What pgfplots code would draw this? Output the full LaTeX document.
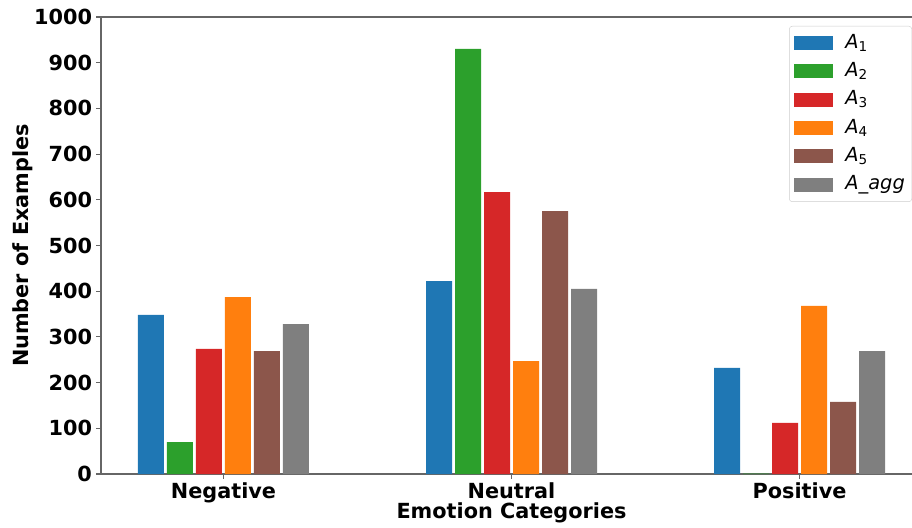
\documentclass[border=0pt]{standalone}
\usepackage{pgfplots}
\pgfplotsset{compat=1.18}
\usepackage{fontspec}
\setmainfont{DejaVu Sans}
\definecolor{c1}{HTML}{1F77B4}
\definecolor{c2}{HTML}{2CA02C}
\definecolor{c3}{HTML}{D62728}
\definecolor{c4}{HTML}{FF7F0E}
\definecolor{c5}{HTML}{8C564B}
\definecolor{c6}{HTML}{7F7F7F}
\begin{document}
\fontsize{20.8}{25}\selectfont
\begin{tikzpicture}
\begin{axis}[
  name=ax, at={(0,0)}, anchor=south west,
  scale only axis, width=821pt, height=457pt,
  xmin=-0.4253, xmax=2.4253, ymin=0, ymax=1000,
  ybar=3pt, bar width=26pt,
  xtick={0,1,2}, xticklabels={Negative,Neutral,Positive},
  ytick={0,100,...,1000},
  tick align=outside, tick pos=left,
  major tick length=4.9pt,
  tick style={black!60, line width=1.1pt},
  axis line style={black!60, line width=1.1pt},
  /pgf/number format/assume math mode=true,
  /pgf/number format/1000 sep={},
  ticklabel style={font=\bfseries},
  yticklabel style={xshift=3pt},
  xticklabel style={yshift=3pt},
  xlabel={\bfseries Emotion Categories},
  ylabel={\bfseries Number of Examples},
  xlabel style={yshift=15pt},
  ylabel style={yshift=-13pt},
  legend style={at={(1,1)}, anchor=north east, xshift=-10pt, yshift=-9pt,
    draw=black!20, rounded corners=3pt, fill=white, font=\mdseries\fontsize{19.4}{23}\selectfont,
    row sep=4.3pt, inner xsep=5pt, inner ysep=5pt,
    nodes={inner sep=2pt, text height=15pt, text depth=5pt},
    /tikz/every odd column/.append style={column sep=10pt}},
  legend cell align=left,
  legend image code/.code={\fill[#1, sharp corners] (0pt,-7pt) rectangle (39pt,7pt);},
]
\addplot[fill=c1, draw=none] coordinates {(0,348) (1,422) (2,232)};
\addplot[fill=c2, draw=none] coordinates {(0,70) (1,930) (2,1)};
\addplot[fill=c3, draw=none] coordinates {(0,274) (1,617) (2,112)};
\addplot[fill=c4, draw=none] coordinates {(0,387) (1,247) (2,368)};
\addplot[fill=c5, draw=none] coordinates {(0,269) (1,575) (2,158)};
\addplot[fill=c6, draw=none] coordinates {(0,328) (1,405) (2,269)};
\legend{\textit{A}\textsubscript{1},\textit{A}\textsubscript{2},\textit{A}\textsubscript{3},\textit{A}\textsubscript{4},\textit{A}\textsubscript{5},\textit{A\_agg}}
\end{axis}
\pgfresetboundingbox
\useasboundingbox (-101pt,-53pt) rectangle (811pt,474pt);
\end{tikzpicture}
\end{document}
